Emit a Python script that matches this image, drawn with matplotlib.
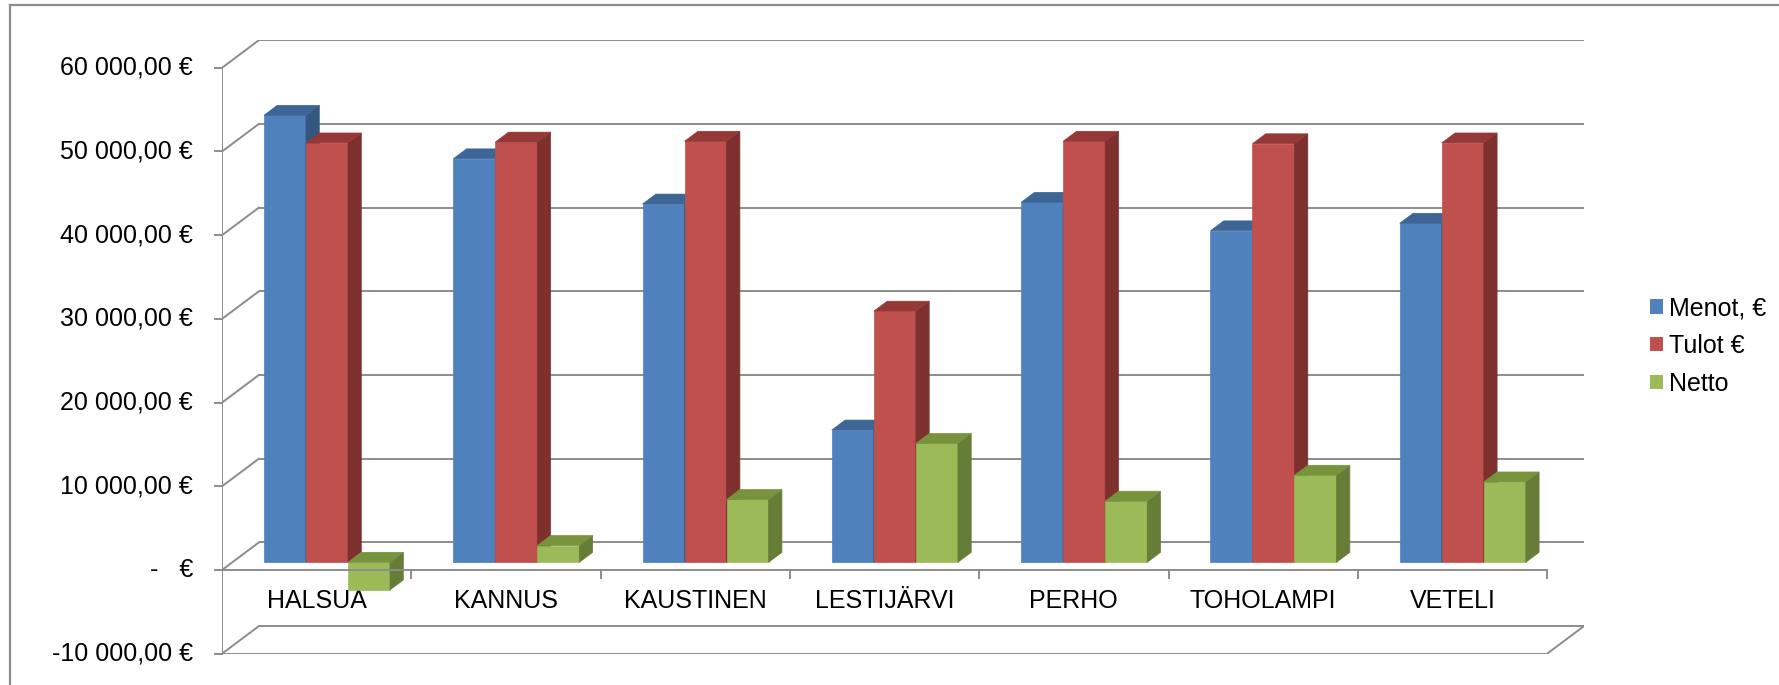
import matplotlib
matplotlib.use('Agg')
import matplotlib.pyplot as plt
from matplotlib.patches import Polygon, Patch

plt.rcParams['font.family'] = ['Liberation Sans', 'DejaVu Sans']

# data
categories = ["HALSUA", "KANNUS", "KAUSTINEN", "LESTIJÄRVI", "PERHO", "TOHOLAMPI", "VETELI"]
menot = [53400, 48200, 42800, 15800, 43000, 39600, 40500]
tulot = [50100, 50200, 50300, 30000, 50300, 50000, 50100]
netto = [-3300, 2000, 7500, 14200, 7300, 10400, 9600]
series_names = ["Menot, €", "Tulot €", "Netto"]
y_ticks = [-10000, 0, 10000, 20000, 30000, 40000, 50000, 60000]
y_ticklabels = ["-10 000,00 €", "-   €", "10 000,00 €", "20 000,00 €", "30 000,00 €",
                "40 000,00 €", "50 000,00 €", "60 000,00 €"]

# colours: front, side, top
front_c = ['#4F81BD', '#C0504D', '#9BBB59']
side_c = ['#34577F', '#7E302E', '#667D37']
top_c = ['#3D6596', '#963836', '#77933C']
grid_c = '#8C8C8C'

W, H = 1779, 685
fig = plt.figure(figsize=(W / 100, H / 100), dpi=100)

# fake 3d projection: depth shifts right/up
ddx, ddy = 0.195, 3300
ymin, ymax = -10000, 60000
n = len(categories)

# axes placed in pixel terms
px_x0, px_per_cat = 222, 189.3
px_y0, px_per_unit = 570, 83.7 / 10000
top_px = px_y0 - (ymax + ddy) * px_per_unit
bot_px = px_y0 - ymin * px_per_unit
ax = fig.add_axes([px_x0 / W, 1 - bot_px / H, (n + ddx) * px_per_cat / W, (bot_px - top_px) / H])
ax.set_xlim(0, n + ddx)
ax.set_ylim(ymin, ymax + ddy)
ax.axis('off')

lw = 1.4
# back wall gridlines + left wall diagonals
for v, lab in zip(y_ticks, y_ticklabels):
    ax.plot([ddx, n + ddx], [v + ddy, v + ddy], color=grid_c, lw=lw, zorder=1, solid_capstyle='butt')
    ax.plot([0, ddx], [v, v + ddy], color=grid_c, lw=lw, zorder=1)
    ax.plot([-0.037, 0], [v, v], color=grid_c, lw=lw, zorder=1, clip_on=False)
    ax.text(-0.153, v, lab, ha='right', va='center', fontsize=18, clip_on=False)
ax.plot([0, 0], [ymin, ymax], color=grid_c, lw=lw, zorder=1)
# floor
ax.plot([0, n], [ymin, ymin], color=grid_c, lw=lw, zorder=1)
ax.plot([n, n + ddx], [ymin, ymin + ddy], color=grid_c, lw=lw, zorder=1)

# bars
fb, db = 0.28, 0.36
bw = 0.222
ox, oy = db * ddx, db * ddy
for s, vals in enumerate([menot, tulot, netto]):
    for i, v in enumerate(vals):
        x = i + 0.5 - 1.5 * bw + s * bw + fb * ddx
        yb = fb * ddy
        yt = yb + v
        lo, hi = min(yb, yt), max(yb, yt)
        zo = 3 + s
        ax.add_patch(Polygon([(x, lo), (x + bw, lo), (x + bw, hi), (x, hi)],
                             closed=True, fc=front_c[s], ec=front_c[s], lw=0.5, zorder=zo))
        ax.add_patch(Polygon([(x + bw, lo), (x + bw + ox, lo + oy), (x + bw + ox, hi + oy), (x + bw, hi)],
                             closed=True, fc=side_c[s], ec=side_c[s], lw=0.5, zorder=zo))
        ax.add_patch(Polygon([(x, hi), (x + bw, hi), (x + bw + ox, hi + oy), (x + ox, hi + oy)],
                             closed=True, fc=top_c[s], ec=top_c[s], lw=0.5, zorder=zo))

# category axis at front
ax.plot([0, n], [0, 0], color=grid_c, lw=lw, zorder=10)
for i in range(1, n + 1):
    ax.plot([i, i], [0, -1000], color=grid_c, lw=lw, zorder=10, clip_on=False)
for i, c in enumerate(categories):
    ax.text(i + 0.5, -3700, c, ha='center', va='center', fontsize=18)

# legend
handles = [Patch(facecolor=front_c[s], edgecolor='none', label=series_names[s]) for s in range(3)]
fig.legend(handles=handles, loc='center left', bbox_to_anchor=(1650 / W, 1 - 346 / H),
           frameon=False, fontsize=18, handlelength=0.5, handleheight=0.5,
           handletextpad=0.25, labelspacing=0.55, borderpad=0, borderaxespad=0)

# outer chart border (top and left visible)
fig.add_artist(plt.Line2D([10 / W, 1], [1 - 5 / H, 1 - 5 / H], color='#8C8C8C', lw=1.6))
fig.add_artist(plt.Line2D([10 / W, 10 / W], [0, 1 - 5 / H], color='#8C8C8C', lw=1.6))

fig.savefig('out.png', dpi=100)
